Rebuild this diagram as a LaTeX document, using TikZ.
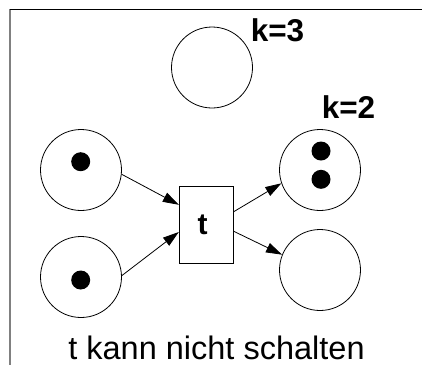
\documentclass[tikz,border=0pt]{standalone}
\usepackage{fontspec}
\setmainfont{Liberation Sans}
\usepackage{tikz}
\usetikzlibrary{calc, arrows.meta}
\definecolor{framegray}{RGB}{128, 128, 128}
\tikzset{
  placenode/.style={circle, draw, line width=0.8pt, minimum size=81pt, inner sep=0pt},
  transnode/.style={rectangle, draw, line width=0.8pt, minimum width=54pt, minimum height=77pt, inner sep=0pt},
  kante/.style={-{Triangle[length=16pt, width=10pt]}, line width=0.8pt},
  tokenmark/.style={fill=black},
}

\begin{document}
\begin{tikzpicture}[x=1pt, y=-1pt]
        \useasboundingbox (0,0) rectangle (422,365);
        % Rahmen
        \draw[framegray, line width=2pt] (9.5,9) -- (9.5,365);
        \draw[line width=1.3pt] (9.5,9.5) -- (422,9.5);
        % Stellen und Transition
        \node[placenode] (p3) at (212,67.5) {};
        \node[placenode] (p1) at (81,170) {};
        \node[placenode] (p2) at (81,277) {};
        \node[placenode] (p4) at (320,170) {};
        \node[placenode] (p5) at (320,270) {};
        \node[transnode, font=\fontsize{30}{36}\selectfont\bfseries] (t) at (206.2,225) {t\kern7pt};
        % Marken
        \fill[tokenmark] (80.7,161.7) circle (9.5);
        \fill[tokenmark] (80.7,280) circle (9.5);
        \fill[tokenmark] (321,151) circle (9.5);
        \fill[tokenmark] (321,179.3) circle (9.5);
        % Kapazitaeten
        \node[font=\fontsize{31.5}{37}\selectfont\bfseries, inner sep=0pt] (k3) at (277.5,30) {k=3};
        \node[font=\fontsize{31.5}{37}\selectfont\bfseries, inner sep=0pt] (k2) at (348.5,107) {k=2};
        % Kanten
        \draw[kante] (p1.-6) -- ($(t.north west)!0.24!(t.south west)$);
        \draw[kante] (p2.2) -- ($(t.north west)!0.59!(t.south west)$);
        \draw[kante] ($(t.north east)!0.33!(t.south east)$) -- (p4.199);
        \draw[kante] ($(t.north east)!0.58!(t.south east)$) -- (p5.158);
        \node[font=\fontsize{32.5}{39}\selectfont, inner sep=0pt] (cap) at (216.5,348) {t kann nicht schalten};
      \end{tikzpicture}
\end{document}
